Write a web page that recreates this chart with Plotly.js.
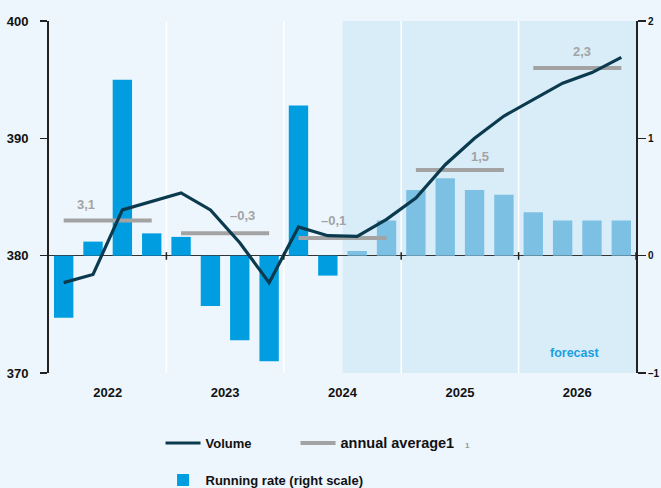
<!DOCTYPE html>
<html>
<head>
<meta charset="utf-8">
<script src="https://cdn.plot.ly/plotly-3.0.1.min.js"></script>
<style>html,body{margin:0;padding:0;background:#eef6fd;}</style>
</head>
<body>
<div id="chart" style="width:661px;height:488px;"></div>
<script>
// Quarterly data 2022 Q1 – 2026 Q4
const quarters = [0,1,2,3,4,5,6,7,8,9,10,11,12,13,14,15,16,17,18,19];
const years = ['2022','2023','2024','2025','2026'];
const yearCenters = [1.5,5.5,9.5,13.5,17.5];
const runningRate = [-0.53,0.12,1.50,0.19, 0.16,-0.43,-0.72,-0.90, 1.28,-0.17,0.04,0.30, 0.56,0.66,0.56,0.52, 0.37,0.30,0.30,0.30];
const volume = [377.7,378.4,383.9,384.6, 385.35,383.9,381.1,377.7, 382.45,381.7,381.65,383.1, 384.9,387.75,390.0,391.9, 393.3,394.7,395.6,396.9];
const avgLevel = [383.0,381.9,381.5,387.3,396.0];
const avgLabel = ['3,1','–0,3','–0,1','1,5','2,3'];
const forecastStart = 10; // first forecast quarter index (2024 Q3)

const darkBlue = '#009ee0', lightBlue = '#7cc0e4';
const font = 'Liberation Sans, Arial, sans-serif';

// annual average segments: Q1 to Q4 of each year
const avgX = [], avgY = [];
avgLevel.forEach((v,k)=>{ avgX.push(4*k, 4*k+3, null); avgY.push(v, v, null); });

const traces = [
  {type:'bar', x:quarters, y:runningRate, yaxis:'y', width:0.66,
   marker:{color:runningRate.map((v,i)=> i>=forecastStart ? lightBlue : darkBlue)},
   name:'Running rate (right scale)', legend:'legend2', hoverinfo:'skip'},
  {type:'scatter', mode:'lines', x:avgX, y:avgY, yaxis:'y2', connectgaps:false,
   line:{color:'#a3a3a3', width:4}, legend:'legend3',
   name:'<span style="font-size:14.5px">annual average1</span>   <span style="font-size:8px;color:#999">1</span>'},
  {type:'scatter', mode:'lines', x:quarters, y:volume, yaxis:'y2',
   line:{color:'#0b3a4e', width:3.2}, name:'Volume', legend:'legend'}
];

const annotations = avgLabel.map((t,k)=>({
  x:[0.76,6.1,9.2,14.2,17.65][k], y:avgLevel[k], xref:'x', yref:'y2', text:t, showarrow:false,
  yshift:[16,18,18,14,16][k], font:{family:font, size:13, color:'#a3a3a3', weight:'bold'}
}));
annotations.push({x:17.4, y:-0.83, xref:'x', yref:'y', text:'forecast', showarrow:false,
  font:{family:font, size:12.5, color:'#1a9fe0', weight:'bold'}});

const shapes = [
  {type:'rect', xref:'x', yref:'paper', x0:9.5, x1:19.5, y0:0, y1:1, fillcolor:'#d9edf9', line:{width:0}, layer:'below'}
];
[3.5,7.5,11.5,15.5].forEach(b=>{
  shapes.push({type:'line', xref:'x', yref:'paper', x0:b, x1:b, y0:0, y1:1, line:{color:'#ffffff', width:1.5}, layer:'below'});
});
[3.5,7.5,11.5,15.5,19.5].forEach(b=>{
  shapes.push({type:'line', xref:'x', yref:'y', x0:b, x1:b, y0:-0.035, y1:0.03, line:{color:'#222', width:1.5}, layer:'above'});
});

const legendFont = {family:font, size:13, weight:'bold', color:'#111'};
const layout = {
  width:661, height:488,
  margin:{l:49, r:25, t:21, b:115, autoexpand:false},
  paper_bgcolor:'#eef6fd', plot_bgcolor:'#eef6fd',
  font:{family:font, color:'#111'},
  showlegend:true,
  xaxis:{range:[-0.5,19.5], tickmode:'array', tickvals:yearCenters, ticktext:years,
    showgrid:false, zeroline:false, showline:false, ticks:'', ticklabelstandoff:10,
    tickfont:{family:font, size:13, weight:'bold', color:'#111'}},
  yaxis:{range:[-1,2], side:'right', tickmode:'array', tickvals:[-1,0,1,2], ticktext:['–1','0','1','2'],
    showgrid:false, zeroline:true, zerolinecolor:'#333', zerolinewidth:1.5,
    showline:true, linecolor:'#222', linewidth:2, ticks:'outside', ticklen:8, tickwidth:1.5, tickcolor:'#222',
    tickfont:{family:font, size:10, weight:'bold', color:'#111'}},
  yaxis2:{range:[370,400], overlaying:'y', side:'left', tickmode:'array', tickvals:[370,380,390,400],
    showgrid:false, zeroline:false, ticklabelstandoff:9,
    showline:true, linecolor:'#222', linewidth:2, ticks:'outside', ticklen:7, tickwidth:1.5, tickcolor:'#222',
    tickfont:{family:font, size:13, weight:'bold', color:'#111'}},
  legend:{orientation:'h', x:0.19, xanchor:'left', y:-0.199, yanchor:'middle', bgcolor:'rgba(0,0,0,0)',
    itemwidth:35, font:legendFont},
  legend3:{orientation:'h', x:0.42, xanchor:'left', y:-0.199, yanchor:'middle', bgcolor:'rgba(0,0,0,0)',
    itemwidth:35, font:legendFont},
  legend2:{orientation:'h', x:0.19, xanchor:'left', y:-0.304, yanchor:'middle', bgcolor:'rgba(0,0,0,0)',
    itemwidth:35, font:legendFont},
  annotations:annotations,
  shapes:shapes
};

Plotly.newPlot('chart', traces, layout, {displayModeBar:false, staticPlot:true});
</script>
</body>
</html>
